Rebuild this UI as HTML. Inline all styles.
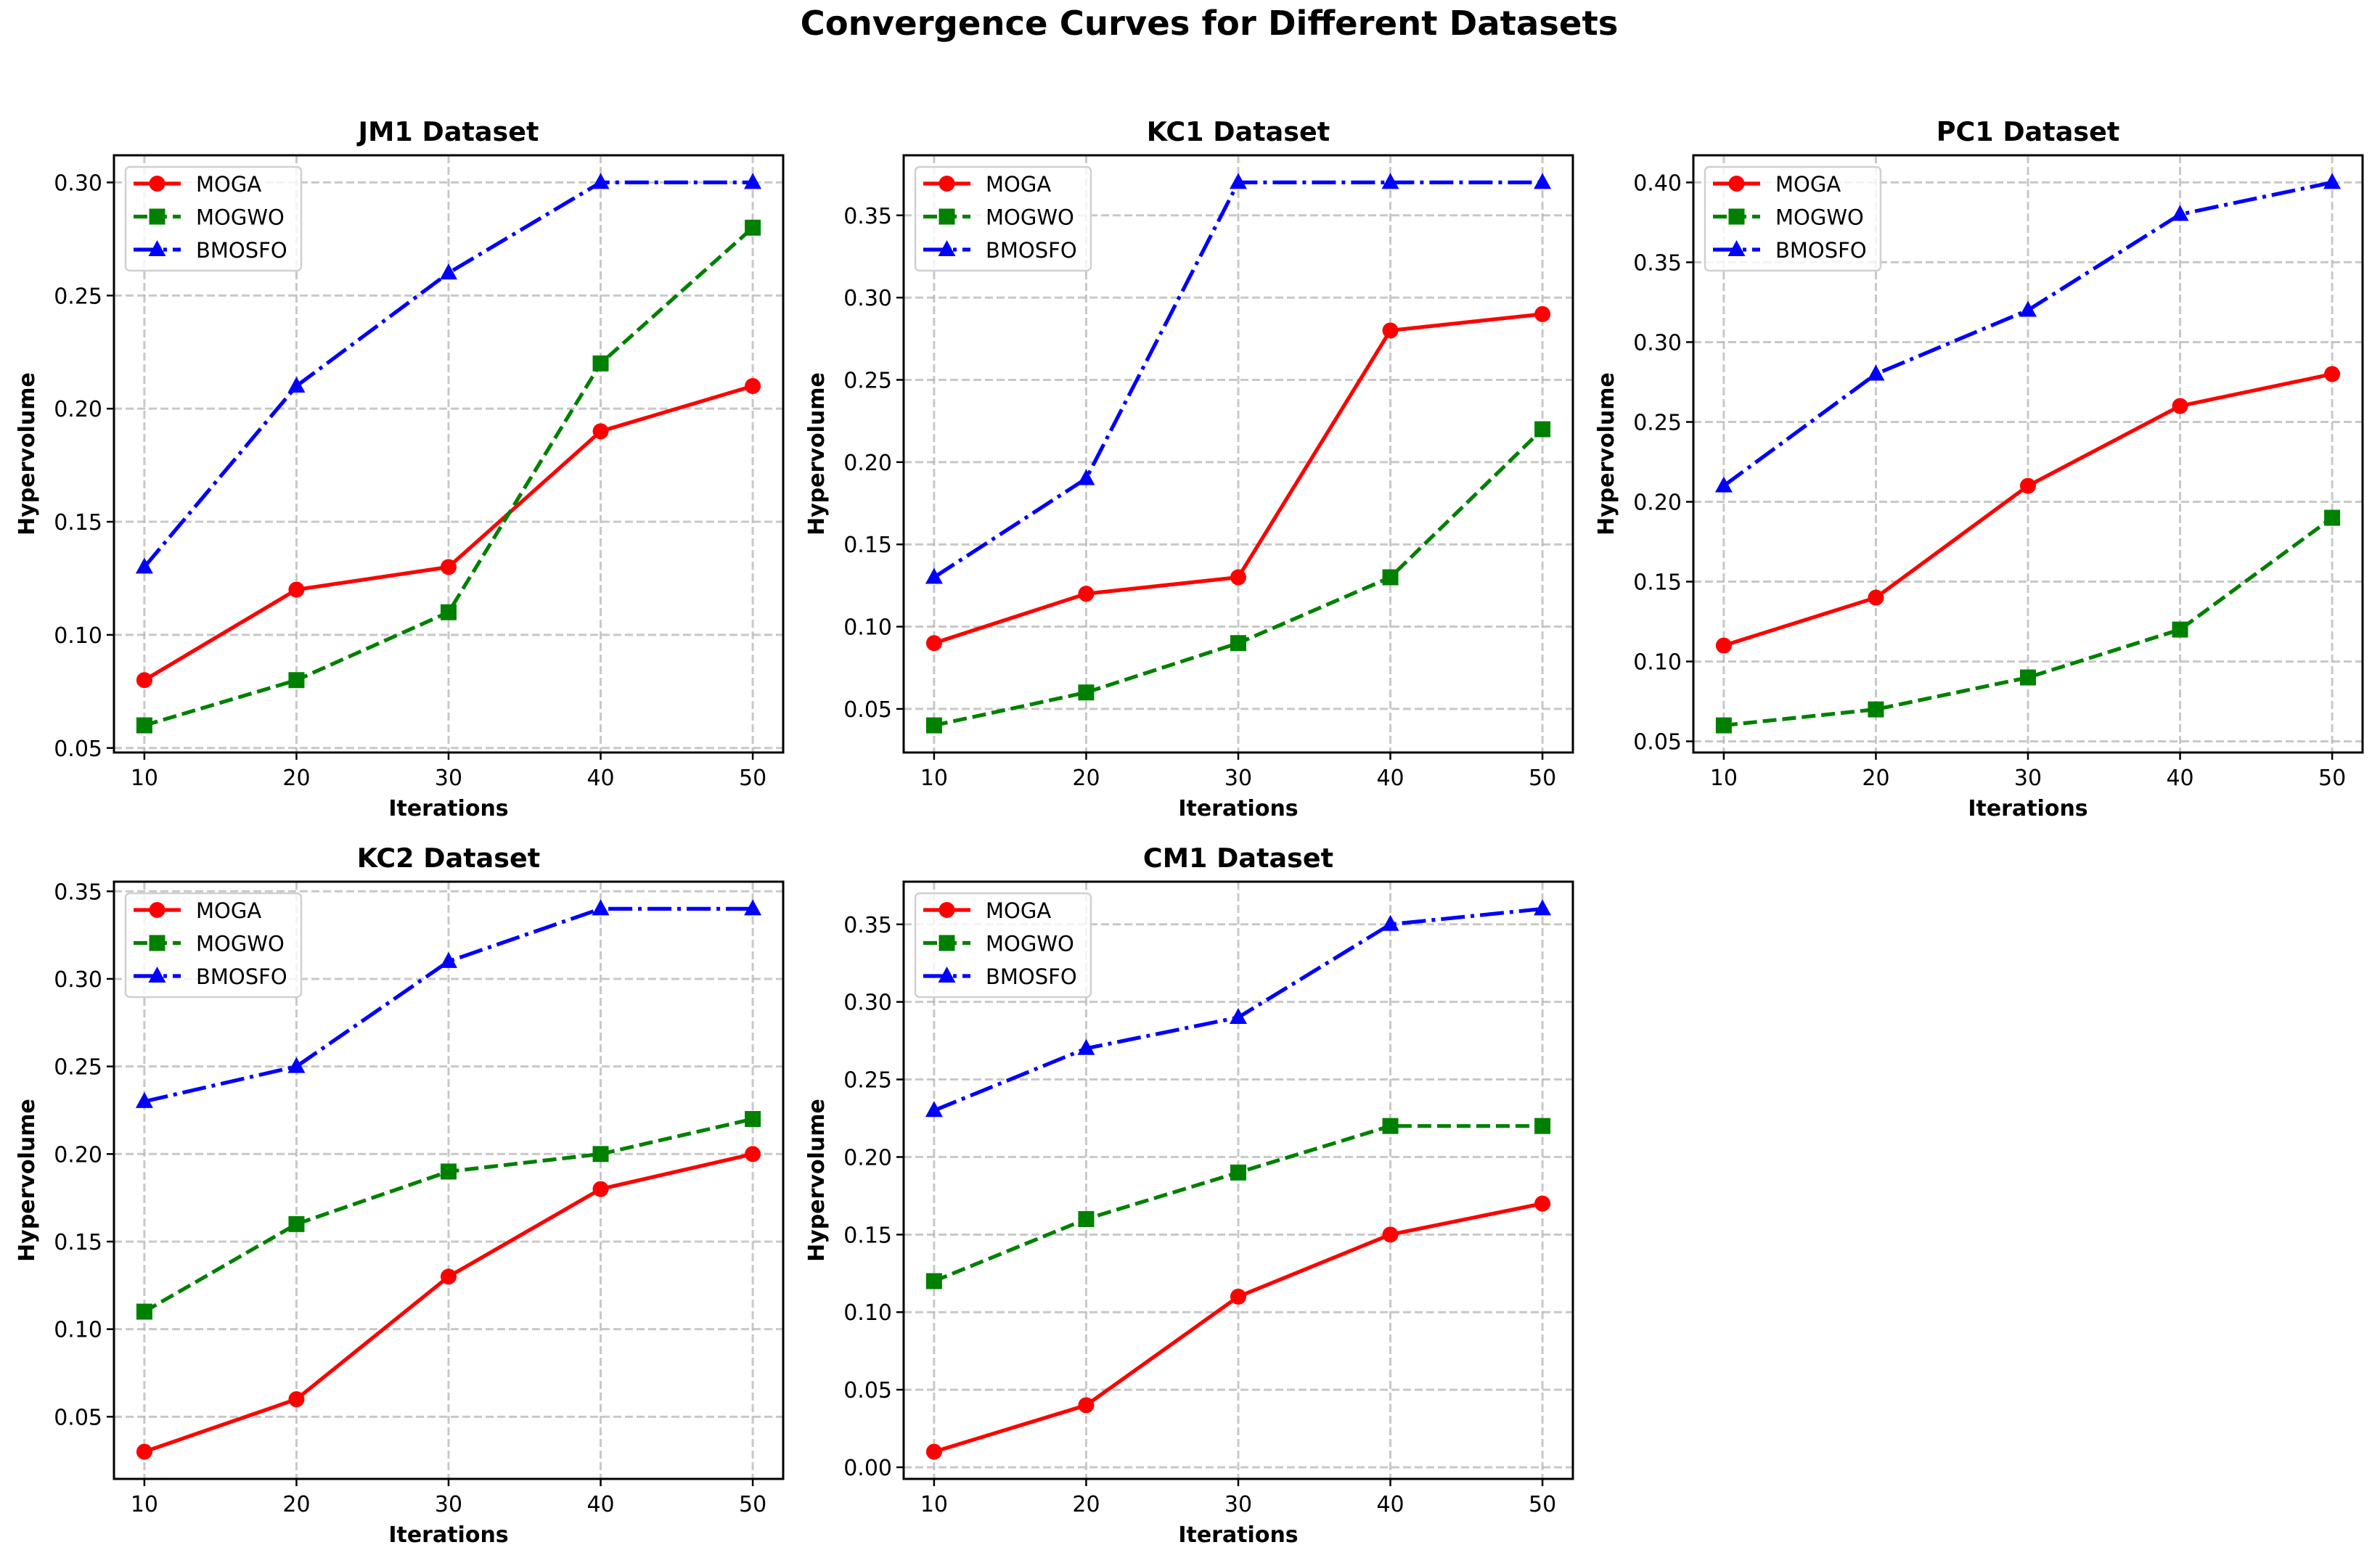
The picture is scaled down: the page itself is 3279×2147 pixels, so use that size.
<!DOCTYPE html>
<html><head><meta charset="utf-8">
<style>
html,body{margin:0;padding:0;background:#fff;}
svg{display:block;font-family:"DejaVu Sans","Liberation Sans",sans-serif;}
</style></head>
<body>
<svg id="fig" width="3279" height="2147" viewBox="0 0 3279 2147" xmlns="http://www.w3.org/2000/svg">
<rect width="3279" height="2147" fill="#fff"/>
<text x="1666" y="48" text-anchor="middle" font-size="46.5" font-weight="bold">Convergence Curves for Different Datasets</text>
</svg>
<script>
const iterations = [10, 20, 30, 40, 50];
const datasetNames = ["JM1", "KC1", "PC1", "KC2", "CM1"];
const mogaJM1 = [0.08, 0.12, 0.13, 0.19, 0.21];
const mogwoJM1 = [0.06, 0.08, 0.11, 0.22, 0.28];
const bmosfoJM1 = [0.13, 0.21, 0.26, 0.30, 0.30];
const mogaKC1 = [0.09, 0.12, 0.13, 0.28, 0.29];
const mogwoKC1 = [0.04, 0.06, 0.09, 0.13, 0.22];
const bmosfoKC1 = [0.13, 0.19, 0.37, 0.37, 0.37];
const mogaPC1 = [0.11, 0.14, 0.21, 0.26, 0.28];
const mogwoPC1 = [0.06, 0.07, 0.09, 0.12, 0.19];
const bmosfoPC1 = [0.21, 0.28, 0.32, 0.38, 0.40];
const mogaKC2 = [0.03, 0.06, 0.13, 0.18, 0.20];
const mogwoKC2 = [0.11, 0.16, 0.19, 0.20, 0.22];
const bmosfoKC2 = [0.23, 0.25, 0.31, 0.34, 0.34];
const mogaCM1 = [0.01, 0.04, 0.11, 0.15, 0.17];
const mogwoCM1 = [0.12, 0.16, 0.19, 0.22, 0.22];
const bmosfoCM1 = [0.23, 0.27, 0.29, 0.35, 0.36];
const seriesNames = ["MOGA", "MOGWO", "BMOSFO"];

const panelData = [
  [mogaJM1, mogwoJM1, bmosfoJM1],
  [mogaKC1, mogwoKC1, bmosfoKC1],
  [mogaPC1, mogwoPC1, bmosfoPC1],
  [mogaKC2, mogwoKC2, bmosfoKC2],
  [mogaCM1, mogwoCM1, bmosfoCM1]
];
const colors = ["#ff0000", "#008000", "#0000ff"];
const dashes = ["", "19 8", "33 8 5 8"];
const markers = ["circle", "square", "triangle"];
const layout = [[157,214],[1245,214],[2333,214],[157,1215],[1245,1215]];
const AW = 922, AH = 823;
const NS = "http://www.w3.org/2000/svg";
const fig = document.getElementById("fig");

function mk(tag, attrs, parent) {
  const e = document.createElementNS(NS, tag);
  for (const k in attrs) e.setAttribute(k, attrs[k]);
  parent.appendChild(e);
  return e;
}
function marker(g, kind, x, y, c) {
  let m;
  if (kind === "circle") m = mk("circle", {cx:x, cy:y, r:11, fill:c}, g);
  else if (kind === "square") m = mk("rect", {x:x-11, y:y-11, width:22, height:22, fill:c}, g);
  else m = mk("polygon", {points:`${x},${y-13} ${x+12},${y+9} ${x-12},${y+9}`, fill:c}, g);
  return m;
}

panelData.forEach((series, p) => {
  const [L, T] = layout[p];
  const g = mk("g", {}, fig);
  
  
  const all = series.flat();
  const mn = Math.min(...all), mx = Math.max(...all);
  const pad = (mx - mn) * 0.05;
  const y0 = mn - pad, y1 = mx + pad;
  const x0 = 8, x1 = 52;
  const sx = v => L + (v - x0) / (x1 - x0) * AW;
  const sy = v => T + AH - (v - y0) / (y1 - y0) * AH;

  const tStart = Math.ceil(y0 / 0.05 - 1e-9), tEnd = Math.floor(y1 / 0.05 + 1e-9);
  for (let i = tStart; i <= tEnd; i++) {
    const v = i * 0.05, y = sy(v);
    const gl = mk("line", {x1:L, x2:L+AW, y1:y, y2:y, stroke:"#b0b0b0", "stroke-opacity":0.7, "stroke-width":3, "stroke-dasharray":"11 5"}, g);
    
    
    mk("line", {x1:L-10, x2:L, y1:y, y2:y, stroke:"#000", "stroke-width":2.5}, g);
    const t = mk("text", {x:L-16, y:y+11, "text-anchor":"end", "font-size":30}, g);
    t.textContent = v.toFixed(2);
    
    
  }
  iterations.forEach(v => {
    const x = sx(v);
    const gl = mk("line", {x1:x, x2:x, y1:T, y2:T+AH, stroke:"#b0b0b0", "stroke-opacity":0.7, "stroke-width":3, "stroke-dasharray":"11 5"}, g);
    
    
    mk("line", {x1:x, x2:x, y1:T+AH, y2:T+AH+10, stroke:"#000", "stroke-width":2.5}, g);
    const t = mk("text", {x:x, y:T+AH+45, "text-anchor":"middle", "font-size":30}, g);
    t.textContent = v;
    
    
  });

  series.forEach((vals, s) => {
    const sg = mk("g", {}, g);
    
    
    const pts = vals.map((v, i) => `${sx(iterations[i])},${sy(v)}`).join(" ");
    const attrs = {points:pts, fill:"none", stroke:colors[s], "stroke-width":5.2, "stroke-linejoin":"round"};
    if (dashes[s]) attrs["stroke-dasharray"] = dashes[s];
    const pl = mk("polyline", attrs, sg);
    
    
    vals.forEach((v, i) => {
      const m = marker(sg, markers[s], sx(iterations[i]), sy(v), colors[s]);
      
      
    });
  });

  const fr = mk("rect", {x:L, y:T, width:AW, height:AH, fill:"none", stroke:"#000", "stroke-width":3}, g);
  
  

  const lg = mk("g", {}, g);
  
  
  mk("rect", {x:L+16, y:T+16, width:242, height:143, rx:6, fill:"#fff", "fill-opacity":0.8, stroke:"#d0d0d0", "stroke-width":2.5}, lg);
  seriesNames.forEach((n, s) => {
    const ey = T + 39 + s * 45.5;
    const eg = mk("g", {}, lg);
    
    
    const a = {x1:L+27, x2:L+92, y1:ey, y2:ey, stroke:colors[s], "stroke-width":5.2};
    if (dashes[s]) a["stroke-dasharray"] = dashes[s];
    mk("line", a, eg);
    marker(eg, markers[s], L+59.5, ey, colors[s]);
    const t = mk("text", {x:L+113, y:ey+11, "font-size":29}, eg);
    t.textContent = n;
  });

  const tt = mk("text", {x:L+AW/2, y:T-20, "text-anchor":"middle", "font-size":36.5, "font-weight":"bold"}, g);
  tt.textContent = datasetNames[p] + " Dataset";
  
  
  const xl = mk("text", {x:L+AW/2, y:T+AH+87, "text-anchor":"middle", "font-size":30, "font-weight":"bold"}, g);
  xl.textContent = "Iterations";
  
  
  const yx = L - 110, yy = T + AH/2;
  const yl = mk("text", {x:yx, y:yy, "text-anchor":"middle", "font-size":30, "font-weight":"bold", transform:`rotate(-90 ${yx} ${yy})`}, g);
  yl.textContent = "Hypervolume";
  
  
});
</script>
</body></html>
